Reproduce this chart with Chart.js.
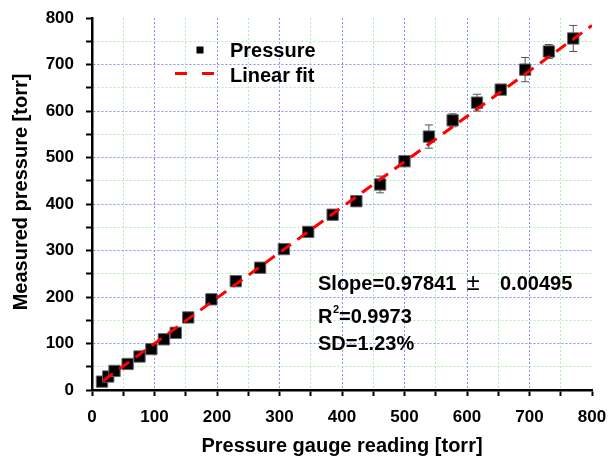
<!DOCTYPE html>
<html lang="en">
<head>
<meta charset="UTF-8">
<title>Measured pressure vs gauge reading</title>
<script src="https://cdn.jsdelivr.net/npm/chart.js@4.4.0/dist/chart.umd.min.js"></script>
<style>
  html, body { margin: 0; padding: 0; background: #fff; }
</style>
</head>
<body>
<canvas id="chart" width="609" height="460"></canvas>
<script>
// gauge reading (x), measured pressure (y) and its error, all in torr
const gaugeReading = [16, 26, 36, 57, 76, 95, 115, 134, 154, 191, 230, 269, 307, 346, 385, 423, 461, 500, 539, 577, 616, 654, 693, 731, 770];
const measured     = [18, 29, 41, 56, 72, 88, 109, 123, 156, 195, 234, 263, 303, 340, 377, 406, 442, 492, 545, 580, 618, 646, 689, 728, 756];
const measuredErr  = [2, 2, 2, 2, 2, 2, 2, 3, 3, 3, 3, 3, 4, 4, 5, 11, 18, 8, 25, 14, 18, 5, 26, 15, 28];

// ends of the linear fit line
const fitX = [18, 800];
const fitY = [20, 784];

const FONT = '"Liberation Sans", Arial, sans-serif';
const RED = '#ff0000';

function gridColor(ctx) {
    const v = ctx.tick.value;
    if (v === 800) return 'rgba(0,0,0,0)';
    return v % 100 === 0 ? 'rgba(120,120,255,0.85)' : 'rgba(165,235,165,0.85)';
}

// vertical error bars, drawn under the square markers
const errorBars = {
    id: 'errorBars',
    beforeDatasetsDraw(chart) {
        const ctx = chart.ctx;
        const xs = chart.scales.x, ys = chart.scales.y;
        ctx.save();
        ctx.strokeStyle = '#555';
        ctx.lineWidth = 1;
        for (let i = 0; i < gaugeReading.length; i++) {
            const px = xs.getPixelForValue(gaugeReading[i]);
            const top = ys.getPixelForValue(measured[i] + measuredErr[i]);
            const bot = ys.getPixelForValue(measured[i] - measuredErr[i]);
            ctx.beginPath();
            ctx.moveTo(px, top); ctx.lineTo(px, bot);
            ctx.moveTo(px - 4, top); ctx.lineTo(px + 4, top);
            ctx.moveTo(px - 4, bot); ctx.lineTo(px + 4, bot);
            ctx.stroke();
        }
        ctx.restore();
    }
};

// legend box, y title and fit results
const notes = {
    id: 'notes',
    afterDraw(chart) {
        const ctx = chart.ctx;
        const ca = chart.chartArea;
        ctx.save();
        ctx.fillStyle = '#000';
        ctx.textBaseline = 'alphabetic';
        ctx.textAlign = 'left';
        ctx.font = 'bold 20px ' + FONT;

        // legend
        ctx.fillRect(ca.left + 104.5, ca.top + 28.5, 7, 7);
        ctx.fillText('Pressure', ca.left + 138, ca.top + 39);
        ctx.strokeStyle = RED;
        ctx.lineWidth = 3;
        ctx.setLineDash([12, 15]);
        ctx.beginPath();
        ctx.moveTo(ca.left + 83, ca.top + 55.5);
        ctx.lineTo(ca.left + 122, ca.top + 55.5);
        ctx.stroke();
        ctx.setLineDash([]);
        ctx.fillText('Linear fit', ca.left + 138, ca.top + 64);

        // fit results
        const x0 = ca.left + 226;
        ctx.fillText('Slope=0.97841', x0, ca.top + 272);
        ctx.font = '24px ' + FONT;
        ctx.textAlign = 'center';
        ctx.fillText('\u00b1', x0 + 155, ca.top + 272);
        ctx.textAlign = 'left';
        ctx.font = 'bold 20px ' + FONT;
        ctx.fillText('0.00495', x0 + 182, ca.top + 272);

        ctx.fillText('R', x0, ca.top + 305);
        ctx.font = 'bold 11px ' + FONT;
        ctx.fillText('2', x0 + 15, ca.top + 295);
        ctx.font = 'bold 20px ' + FONT;
        ctx.fillText('=0.9973', x0 + 21, ca.top + 305);

        ctx.fillText('SD=1.23%', x0, ca.top + 332);

        // y axis title (sits a little above the axis centre in the original)
        ctx.translate(21, (ca.top + ca.bottom) / 2 - 12);
        ctx.rotate(-Math.PI / 2);
        ctx.textAlign = 'center';
        ctx.textBaseline = 'middle';
        ctx.fillText('Measured pressure [torr]', 0, 0);
        ctx.restore();
    }
};

function axisOptions(title, isX) {
    return {
        type: 'linear',
        min: 0,
        max: 800,
        ticks: {
            stepSize: 50,
            autoSkip: false,
            maxRotation: 0,
            minRotation: 0,
            color: '#000',
            font: { family: FONT, size: 17, weight: 'bold' },
            padding: isX ? 11 : 12,
            callback: v => (v % 100 === 0 ? v : '')
        },
        grid: {
            color: gridColor,
            lineWidth: 1,
            tickColor: '#000',
            tickLength: 6,
            tickWidth: 2
        },
        border: { display: true, color: '#000', width: 2.5, dash: [2, 2] },
        title: {
            display: isX,
            text: title,
            color: '#000',
            font: { family: FONT, size: 20, weight: 'bold' },
            padding: { top: 4, bottom: 2 }
        },
        afterFit(scale) {
            if (isX) {
                scale.height = 70;
                scale.paddingLeft = 0;
                scale.paddingRight = 0;
            } else {
                scale.width = 92;
                scale.paddingTop = 0;
                scale.paddingBottom = 0;
            }
        }
    };
}

new Chart(document.getElementById('chart'), {
    type: 'scatter',
    data: {
        datasets: [
            {
                label: 'Linear fit',
                data: fitX.map((x, i) => ({ x: x, y: fitY[i] })),
                showLine: true,
                borderColor: RED,
                borderWidth: 3,
                borderDash: [12, 8],
                pointRadius: 0,
                fill: false,
                order: 0
            },
            {
                label: 'Pressure',
                data: gaugeReading.map((x, i) => ({ x: x, y: measured[i] })),
                pointStyle: 'rect',
                pointRadius: 8,
                backgroundColor: '#000',
                borderColor: '#666',
                borderWidth: 1,
                order: 1
            }
        ]
    },
    options: {
        responsive: false,
        animation: false,
        layout: { padding: { top: 18, right: 17, left: 0, bottom: 0 } },
        scales: {
            x: axisOptions('Pressure gauge reading [torr]', true),
            y: axisOptions('Measured pressure [torr]', false)
        },
        plugins: {
            legend: { display: false },
            tooltip: { enabled: false }
        }
    },
    plugins: [errorBars, notes]
});
</script>
</body>
</html>
